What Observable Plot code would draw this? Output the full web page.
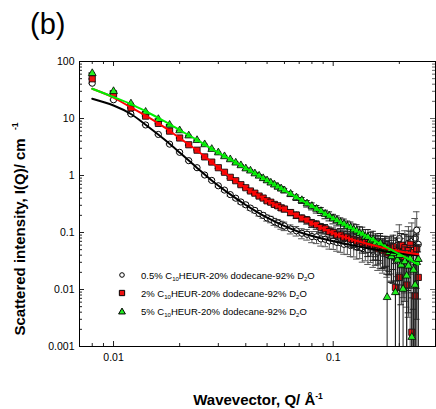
<!DOCTYPE html>
<html><head><meta charset="utf-8">
<script src="https://cdn.jsdelivr.net/npm/d3@7"></script>
<script src="https://cdn.jsdelivr.net/npm/@observablehq/plot@0.6"></script>
<style>
body{margin:0;background:#fff;}
#wrap{width:436px;height:409px;overflow:hidden;}
</style>
</head><body><div id="wrap"></div>
<script>
// Wavevector grid (Å^-1)
const Q = [0.008,0.010,0.012,0.014,0.016,0.018,0.020,0.022,0.024,0.026,0.028,0.030,0.032,0.034,0.036,0.038,0.040,0.042,0.044,0.046,0.048,0.050,0.052,0.054,0.056,0.058,0.060,
0.064,0.068,0.072,0.076,0.080,0.084,0.088,0.092,0.096,0.100,
0.104,0.108,0.112,0.116,0.120,0.124,0.128,0.132,0.136,0.140,
0.144,0.148,0.152,0.156,0.160,0.164,0.168,0.172,0.176,0.180,
0.184,0.188,0.192,0.196,0.200,0.204,0.208,0.212,0.216,0.220,
0.224,0.228,0.232,0.236,0.240,0.244];

// 0.5% C10HEUR (open circles)
const I_05 = [41.6,21.3,12.0,7.7,5.25,3.55,2.55,1.82,1.37,1.02,0.82,0.66,0.555,0.462,0.40,0.343,0.306,0.268,0.244,0.216,0.200,0.180,0.170,0.155,0.147,0.136,0.130,
0.115,0.107,0.097,0.093,0.085,0.084,0.077,0.076,0.071,0.071,
0.067,0.066,0.062,0.063,0.059,0.060,0.056,0.058,0.052,0.056,
0.050,0.055,0.047,0.053,0.045,0.051,0.043,0.050,0.041,0.048,
0.052,0.038,0.047,0.060,0.078,0.044,0.036,0.058,0.049,0.065,
0.042,0.070,0.055,0.080,0.110,0.062];
// 2% C10HEUR (red squares)
const I_2 = [49.7,27.1,15.4,11.0,8.2,6.0,4.55,3.46,2.78,2.12,1.72,1.37,1.14,0.93,0.81,0.69,0.61,0.535,0.49,0.436,0.402,0.36,0.340,0.311,0.294,0.271,0.258,
0.224,0.202,0.178,0.165,0.146,0.137,0.122,0.116,0.104,0.099,
0.091,0.090,0.083,0.083,0.077,0.076,0.071,0.071,0.066,0.068,
0.061,0.064,0.056,0.060,0.052,0.058,0.048,0.055,0.044,0.052,
0.040,0.056,0.0109,0.047,0.0163,0.060,0.038,0.054,0.0120,0.048,
0.062,0.00178,0.045,0.0077,0.052,0.0163];
// 5% C10HEUR (green triangles)
const I_5 = [62,30,18.2,13.0,9.7,7.7,6.15,5.0,4.15,3.5,2.9,2.52,2.16,1.91,1.67,1.50,1.32,1.21,1.08,0.985,0.89,0.815,0.745,0.69,0.632,0.588,0.545,
0.474,0.410,0.367,0.321,0.290,0.258,0.236,0.210,0.195,0.175,
0.163,0.149,0.141,0.128,0.122,0.112,0.107,0.097,0.094,0.084,
0.083,0.072,0.075,0.066,0.060,0.064,0.050,0.055,0.0073,0.045,
0.038,0.043,0.0089,0.033,0.040,0.027,0.0102,0.031,0.0174,0.026,
0.035,0.00146,0.022,0.012,0.030,0.034];

// relative uncertainties
const E_05 = [0.02,0.02,0.02,0.02,0.02,0.025,0.025,0.03,0.03,0.035,0.04,0.045,0.05,0.055,0.06,0.07,0.075,0.08,0.09,0.1,0.11,0.12,0.13,0.14,0.15,0.16,0.17,
0.18,0.19,0.2,0.21,0.22,0.24,0.25,0.26,0.28,0.29,
0.3,0.32,0.33,0.35,0.36,0.38,0.39,0.4,0.42,0.43,
0.45,0.46,0.48,0.5,0.52,0.54,0.55,0.57,0.6,0.62,
0.64,0.66,0.7,0.72,0.75,0.78,0.8,0.85,0.9,0.95,
1.0,1.1,1.0,1.2,1.1,1.0];
const E_2 = [0.02,0.02,0.02,0.02,0.02,0.02,0.02,0.025,0.025,0.03,0.03,0.035,0.04,0.04,0.045,0.05,0.055,0.06,0.065,0.07,0.075,0.08,0.085,0.09,0.095,0.1,0.11,
0.12,0.13,0.14,0.15,0.16,0.17,0.18,0.19,0.2,0.21,
0.22,0.23,0.24,0.26,0.27,0.28,0.3,0.32,0.34,0.36,
0.38,0.4,0.42,0.45,0.48,0.5,0.52,0.55,0.58,0.6,
0.65,0.6,2.0,0.7,1.8,0.6,0.75,0.7,2.2,0.8,
0.7,3.0,0.9,2.5,0.8,1.8];
const E_5 = [0.02,0.02,0.02,0.02,0.02,0.02,0.02,0.02,0.02,0.02,0.025,0.025,0.03,0.03,0.035,0.035,0.04,0.045,0.05,0.055,0.06,0.065,0.07,0.075,0.08,0.085,0.09,
0.1,0.11,0.12,0.13,0.14,0.15,0.16,0.17,0.18,0.19,
0.2,0.21,0.22,0.24,0.25,0.26,0.28,0.3,0.32,0.34,
0.36,0.38,0.4,0.43,0.46,0.5,0.53,0.56,2.5,0.6,
0.65,0.7,2.2,0.75,0.7,0.8,2.0,0.8,1.4,0.85,
0.7,5.0,1.0,1.5,0.9,0.8];

// model fits
const fitQ  = [0.008,0.01,0.012,0.014,0.017,0.02,0.024,0.028,0.034,0.04,0.05,0.07,0.1,0.14,0.2,0.244];
const fit05 = [22.2,16.9,12.0,7.76,4.31,2.53,1.36,0.817,0.466,0.304,0.182,0.102,0.0702,0.0542,0.0430,0.040];
const fit2  = [33.2,23.3,15.6,11.2,7.05,4.52,2.75,1.71,0.940,0.607,0.363,0.190,0.0977,0.0647,0.0468,0.0416];
const fit5  = [33.2,23.8,17.9,13.4,9.0,6.28,4.20,2.94,1.92,1.34,0.817,0.389,0.177,0.0881,0.0419,0.0274];

// ticks
const xMajor = [0.01, 0.1];
const xTickLabels = ["0.01", "0.1"];
const xMinor = [0.008,0.009,0.02,0.03,0.04,0.05,0.06,0.07,0.08,0.09,0.2];
const yMajor = [0.001, 0.01, 0.1, 1, 10, 100];
const yTickLabels = ["0.001", "0.01", "0.1", "1", "10", "100"];
const yMinor = [0.001,0.01,0.1,1,10].flatMap(d => [2,3,4,5,6,7,8,9].map(k => +(d*k).toPrecision(3)));

const legendPct = ["0.5%", "2%", "5%"];

const W = 436, H = 409, mL = 79, mR = 1, mT = 61, mB = 63;
const FW = W - mL - mR, FH = H - mT - mB;
const YMIN = 0.001;

function rows(I, E) {
  return Q.map((q, i) => {
    const lo = I[i] * (1 - E[i]);
    return {q, I: I[i], hi: I[i] * (1 + E[i]), lo: Math.max(lo, YMIN), cut: lo <= YMIN};
  });
}
const r05 = rows(I_05, E_05), r2 = rows(I_2, E_2), r5 = rows(I_5, E_5);
const fitRows = (v) => fitQ.map((q, i) => ({q, I: v[i]}));

const capK = 1.035;
function errMarks(data, color) {
  return [
    Plot.ruleX(data, {x: "q", y1: "lo", y2: "hi", stroke: color, strokeWidth: 1, clip: true}),
    Plot.ruleY(data, {y: "hi", x1: d => d.q / capK, x2: d => d.q * capK, stroke: color, strokeWidth: 1, clip: true}),
    Plot.ruleY(data.filter(d => !d.cut), {y: "lo", x1: d => d.q / capK, x2: d => d.q * capK, stroke: color, strokeWidth: 1, clip: true})
  ];
}

const tickCol = "#222";
const svgEl = Plot.plot({
  width: W, height: H,
  marginLeft: mL, marginRight: mR, marginTop: mT, marginBottom: mB,
  style: {fontFamily: "'Liberation Sans', Arial, sans-serif", fontSize: "10.5px", background: "#fff", color: "#000"},
  x: {type: "log", domain: [0.007, 0.2922]},
  y: {type: "log", domain: [YMIN, 100]},
  marks: [
    // inward ticks
    Plot.tickX(xMajor, {x: d => d, insetTop: FH - 5, stroke: tickCol}),
    Plot.tickX(xMinor, {x: d => d, insetTop: FH - 3, stroke: tickCol}),
    Plot.tickX(xMajor, {x: d => d, insetBottom: FH - 5, stroke: tickCol}),
    Plot.tickX(xMinor, {x: d => d, insetBottom: FH - 3, stroke: tickCol}),
    Plot.tickY(yMajor, {y: d => d, insetRight: FW - 5, stroke: tickCol}),
    Plot.tickY(yMinor, {y: d => d, insetRight: FW - 3, stroke: tickCol}),
    Plot.tickY(yMajor, {y: d => d, insetLeft: FW - 5, stroke: "#666"}),
    Plot.tickY(yMinor, {y: d => d, insetLeft: FW - 3, stroke: "#666"}),
    Plot.axisX({ticks: xMajor, tickFormat: d => xTickLabels[xMajor.indexOf(d)], tickSize: 0, tickPadding: 7, label: null}),
    Plot.axisY({ticks: yMajor, tickFormat: d => yTickLabels[yMajor.indexOf(d)], tickSize: 0, tickPadding: 5, label: null}),
    // error bars + data
    ...errMarks(r05, "#555"),
    Plot.dot(r05, {x: "q", y: "I", r: 3.1, fill: "#fff", stroke: "#000", strokeWidth: 1, clip: true}),
    ...errMarks(r2, "#222"),
    Plot.dot(r2, {x: "q", y: "I", symbol: "square", r: 3.5, fill: "#ee1111", stroke: "#000", strokeWidth: 0.8, clip: true}),
    ...errMarks(r5, "#222"),
    Plot.dot(r5, {x: "q", y: "I", symbol: "triangle", r: 2.9, fill: "#22ee22", stroke: "#000", strokeWidth: 0.8, clip: true}),
    // fits
    Plot.line(fitRows(fit05), {x: "q", y: "I", stroke: "#000", strokeWidth: 2, curve: "catmull-rom"}),
    Plot.line(fitRows(fit2), {x: "q", y: "I", stroke: "#ff0000", strokeWidth: 2, curve: "catmull-rom"}),
    Plot.line(fitRows(fit5), {x: "q", y: "I", stroke: "#00ee00", strokeWidth: 2, curve: "catmull-rom"}),
    Plot.frame({stroke: "#000", strokeWidth: 1})
  ]
});
document.getElementById("wrap").appendChild(svgEl);

const svg = d3.select(svgEl);
const FONT = "'Liberation Sans', Arial, sans-serif";

// panel label
svg.append("text").attr("x", 30).attr("y", 34).attr("text-anchor", "start").attr("font-family", FONT).attr("font-size", 29).attr("fill", "#000").text("(b)");

// y-axis title
const yl = svg.append("text").attr("transform", "translate(25,229) rotate(-90)")
  .attr("text-anchor", "middle").attr("font-family", FONT).attr("font-weight", "bold").attr("font-size", 15).attr("fill", "#000");
yl.append("tspan").text("Scattered intensity, I(Q)/ cm\u00a0\u00a0");
yl.append("tspan").attr("font-size", 8.5).attr("dy", -7).text("-1");

// x-axis title
const xl = svg.append("text").attr("x", 258).attr("y", 405)
  .attr("text-anchor", "middle").attr("font-family", FONT).attr("font-weight", "bold").attr("font-size", 15).attr("fill", "#000");
xl.append("tspan").text("Wavevector, Q/ \u00c5");
xl.append("tspan").attr("font-size", 8.5).attr("dy", -6).text("-1");

// legend
const legY = [275, 293, 311];
const legSym = [
  {type: d3.symbolCircle, size: Math.PI * 2.3 * 2.3, fill: "#fff"},
  {type: d3.symbolSquare, size: 28, fill: "#ee1111"},
  {type: d3.symbolTriangle, size: 20, fill: "#22ee22"}
];
legendPct.forEach((p, i) => {
  svg.append("path").attr("transform", `translate(122,${legY[i] + (i === 2 ? 1 : 0)})`)
    .attr("d", d3.symbol(legSym[i].type, legSym[i].size)())
    .attr("fill", legSym[i].fill).attr("stroke", "#000").attr("stroke-width", 1);
  const t = svg.append("text").attr("x", 141).attr("y", legY[i] + 3.5).attr("text-anchor", "start")
    .attr("font-family", FONT).attr("font-size", 9.5).attr("fill", "#000");
  t.append("tspan").text(p + " C");
  t.append("tspan").attr("font-size", 6).attr("dy", 2.5).text("10");
  t.append("tspan").attr("dy", -2.5).text("HEUR-20% dodecane-92% D");
  t.append("tspan").attr("font-size", 6).attr("dy", 2.5).text("2");
  t.append("tspan").attr("dy", -2.5).text("O");
});
</script>
</body></html>
